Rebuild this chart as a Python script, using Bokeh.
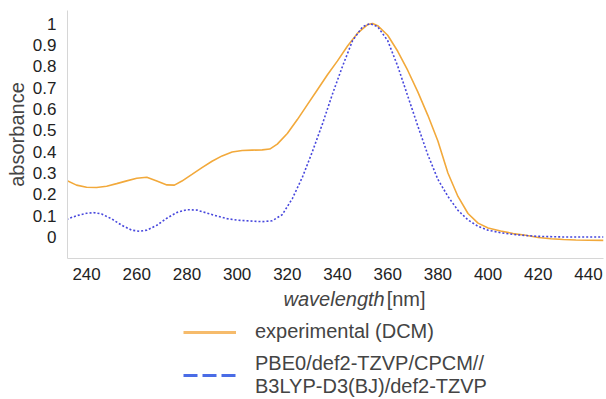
from bokeh.plotting import figure
from bokeh.layouts import column
from bokeh.models import (Range1d, FixedTicker, Legend, LegendItem, Label)
from bokeh.embed import file_html
from bokeh.resources import INLINE

# ---- data ----
exp_wl = [232, 236, 240, 244, 248, 252, 256, 260, 264, 268,
          272, 275, 278, 282, 286, 290, 294, 298, 302, 306,
          310, 313, 316, 320, 324, 328, 332, 336, 340, 344,
          348, 352, 354, 356, 360, 364, 368, 372, 376, 380,
          384, 388, 392, 396, 400, 405, 410, 415, 420, 425,
          430, 435, 440, 446]
exp_abs = [0.265, 0.243, 0.233, 0.232, 0.238, 0.250, 0.263, 0.275, 0.280, 0.262,
           0.244, 0.243, 0.262, 0.293, 0.325, 0.355, 0.380, 0.398, 0.405, 0.407,
           0.408, 0.412, 0.435, 0.485, 0.55, 0.62, 0.69, 0.76, 0.825, 0.895,
           0.955, 0.995, 1.0, 0.99, 0.945, 0.87, 0.78, 0.68, 0.57, 0.45,
           0.30, 0.19, 0.11, 0.065, 0.042, 0.028, 0.016, 0.008, -0.002, -0.008,
           -0.012, -0.014, -0.015, -0.016]

calc_wl = [232, 236, 240, 243, 246, 250, 254, 258, 261, 264,
           268, 272, 276, 280, 284, 288, 292, 296, 300, 305,
           310, 314, 318, 322, 326, 330, 334, 338, 342, 346,
           350, 353, 356, 360, 364, 368, 372, 376, 380, 384,
           388, 392, 396, 400, 405, 410, 415, 420, 430, 446]
calc_abs = [0.082, 0.100, 0.111, 0.114, 0.108, 0.085, 0.055, 0.032, 0.027, 0.032,
            0.055, 0.088, 0.115, 0.128, 0.126, 0.112, 0.098, 0.086, 0.079, 0.075,
            0.072, 0.076, 0.105, 0.18, 0.28, 0.40, 0.53, 0.67, 0.80, 0.92,
            0.985, 1.0, 0.985, 0.92, 0.80, 0.66, 0.52, 0.385, 0.27, 0.19,
            0.125, 0.08, 0.05, 0.032, 0.02, 0.012, 0.007, 0.003, 0.0, 0.0]

x_ticks = [240, 260, 280, 300, 320, 340, 360, 380, 400, 420, 440]
y_ticks = [0, 0.1, 0.2, 0.3, 0.4, 0.5, 0.6, 0.7, 0.8, 0.9, 1]
y_tick_labels = ["0", "0.1", "0.2", "0.3", "0.4", "0.5", "0.6", "0.7", "0.8", "0.9", "1"]

series_labels = ["experimental (DCM)", "PBE0/def2-TZVP/CPCM//\nB3LYP-D3(BJ)/def2-TZVP"]
x_label_italic = "wavelength"
x_label_unit = "[nm]"
y_label = "absorbance"

FONT = "Liberation Sans"

# ---------------- main plot ----------------
p = figure(width=606, height=288, output_backend="svg", toolbar_location=None,
           x_range=Range1d(232.4, 446.0), y_range=Range1d(-0.1007, 1.061),
           min_border_left=67, min_border_right=3, min_border_top=10,
           min_border_bottom=30)
p.outline_line_color = None
p.grid.visible = False

for ax in (p.xaxis[0], p.yaxis[0]):
    ax.axis_line_color = "#d6d6d6"
    ax.axis_line_width = 1
    ax.major_tick_line_color = None
    ax.minor_tick_line_color = None
    ax.major_label_text_font = FONT
    ax.major_label_text_font_size = "17px"
    ax.major_label_text_color = "#222222"
p.yaxis.major_label_standoff = 5
p.xaxis.major_label_standoff = 3

p.xaxis.ticker = FixedTicker(ticks=x_ticks)
p.yaxis.ticker = FixedTicker(ticks=y_ticks)
p.yaxis.major_label_overrides = {t: l for t, l in zip(y_ticks, y_tick_labels)}

p.yaxis.axis_label = y_label
p.yaxis.axis_label_text_font = FONT
p.yaxis.axis_label_text_font_size = "20px"
p.yaxis.axis_label_text_font_style = "normal"
p.yaxis.axis_label_text_color = "#444444"
p.yaxis.axis_label_standoff = 2

p.line(exp_wl, exp_abs, line_color="#f2a93b", line_width=1.6)
p.line(calc_wl, calc_abs, line_color="#4747dd", line_width=1.6, line_dash="2 2")

# ---------------- axis title + legend panel (frame aligned with main) ----------------
q = figure(width=606, height=111, output_backend="svg", toolbar_location=None,
           x_range=p.x_range, y_range=Range1d(1111, 1000),
           min_border=0, x_axis_location=None, y_axis_location=None)
q.outline_line_color = None
q.grid.visible = False

q.add_layout(Label(x=318.5, y=1010, text=x_label_italic, text_font=FONT,
                   text_font_size="20px", text_font_style="italic",
                   text_color="#444444", text_baseline="middle", text_align="left"))
q.add_layout(Label(x=359.6, y=1010, text=x_label_unit, text_font=FONT,
                   text_font_size="20px", text_font_style="normal",
                   text_color="#444444", text_baseline="middle", text_align="left"))

# legend keys (the series again, styled as the legend keys; they fall outside this panel's view)
leg_exp = q.line(exp_wl, exp_abs, line_color="#f6bb6b", line_width=3)
leg_calc = q.line(calc_wl, calc_abs, line_color="#4a6ce6", line_width=3, line_dash="14 5")

legend = Legend(items=[LegendItem(label=series_labels[0], renderers=[leg_exp]),
                       LegendItem(label=series_labels[1], renderers=[leg_calc])],
                location=(116, 1), padding=0, margin=0, spacing=9,
                glyph_width=53, label_standoff=19,
                border_line_color=None, background_fill_alpha=0,
                label_text_font=FONT, label_text_font_size="20px",
                label_text_color="#444444", label_text_line_height=1.0)
q.add_layout(legend)

layout = column(p, q, spacing=0)
open("out.html", "w").write(file_html(layout, INLINE))
